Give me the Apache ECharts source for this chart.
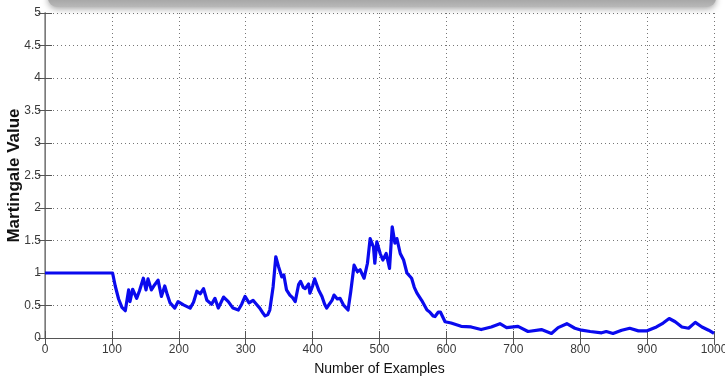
<!DOCTYPE html>
<html>
<head>
<meta charset="utf-8">
<script src="https://cdn.jsdelivr.net/npm/echarts@6/dist/echarts.min.js"></script>
<style>
  html, body { margin: 0; padding: 0; background: #fff; }
  #chart { width: 725px; height: 381px; }
</style>
</head>
<body>
<div id="chart"></div>
<script>
// Martingale value after each example
const examples = [
  0, 101, 105, 110, 115, 120, 125, 127, 131, 137, 141, 147, 151, 154, 159, 164, 169, 174, 179, 183,
  187, 194, 199, 207, 217, 222, 227, 232, 237, 242, 249, 254, 259, 267, 274, 281, 289, 294, 299, 305,
  311, 316, 321, 326, 329, 333, 336, 341, 345, 349, 354, 357, 361, 366, 370, 374, 379, 382, 386, 389,
  394, 396, 400, 403, 409, 414, 418, 421, 425, 429, 432, 437, 441, 446, 453, 457, 462, 467, 471, 477,
  482, 486, 491, 493, 496, 501, 505, 510, 515, 519, 523, 526, 531, 536, 541, 548, 552, 556, 563, 571,
  575, 580, 583, 588, 591, 598, 607, 622, 637, 652, 667, 680, 690, 707, 722, 742, 757, 767, 780, 792,
  802, 815, 832, 839, 849, 862, 874, 887, 900, 914, 924, 933, 942, 952, 962, 972, 982, 992, 1000
];
const martingale = [
  1.00, 1.00, 0.80, 0.60, 0.47, 0.42, 0.74, 0.56, 0.75, 0.61, 0.72, 0.92, 0.74, 0.91, 0.74, 0.82, 0.89, 0.64, 0.80, 0.66,
  0.54, 0.46, 0.56, 0.51, 0.46, 0.55, 0.72, 0.68, 0.76, 0.58, 0.52, 0.61, 0.46, 0.63, 0.56, 0.46, 0.43, 0.52, 0.64, 0.54,
  0.58, 0.52, 0.46, 0.38, 0.34, 0.36, 0.43, 0.79, 1.25, 1.10, 0.94, 0.97, 0.74, 0.66, 0.62, 0.56, 0.82, 0.87, 0.78, 0.76,
  0.83, 0.69, 0.80, 0.91, 0.74, 0.64, 0.52, 0.46, 0.52, 0.58, 0.66, 0.60, 0.61, 0.51, 0.43, 0.71, 1.12, 1.02, 1.05, 0.92,
  1.15, 1.53, 1.40, 1.15, 1.48, 1.30, 1.20, 1.30, 1.07, 1.71, 1.46, 1.53, 1.30, 1.20, 1.00, 0.92, 0.78, 0.69, 0.58, 0.43,
  0.40, 0.34, 0.33, 0.40, 0.40, 0.25, 0.23, 0.18, 0.17, 0.13, 0.17, 0.22, 0.16, 0.18, 0.10, 0.13, 0.07, 0.16, 0.22, 0.15,
  0.12, 0.10, 0.08, 0.10, 0.07, 0.12, 0.15, 0.11, 0.11, 0.17, 0.23, 0.30, 0.25, 0.17, 0.15, 0.24, 0.17, 0.12, 0.07
];
const xTicks = [0, 100, 200, 300, 400, 500, 600, 700, 800, 900, 1000];
const yTicks = [0, 0.5, 1, 1.5, 2, 2.5, 3, 3.5, 4, 4.5, 5];

const tickFont = { fontFamily: '"Liberation Sans Narrow", "Liberation Sans", Arial, sans-serif', fontSize: 12, color: '#3a3a3a' };
const gridLine = { show: true, lineStyle: { color: '#777', width: 1, type: [1, 3] } };
const axisLine = { show: true, lineStyle: { color: '#555', width: 1 } };
const tick = { show: true, inside: true, length: 7, lineStyle: { color: '#555' } };

const chart = echarts.init(document.getElementById('chart'), null, { renderer: 'canvas' });
chart.setOption({
  animation: false,
  backgroundColor: '#fff',
  grid: { left: 45, right: 11, top: 13, bottom: 43, show: false, containLabel: false, outerBoundsMode: 'none' },
  xAxis: [{
    type: 'value', min: 0, max: 1000, interval: 100,
    axisLine: axisLine,
    axisTick: tick,
    axisLabel: Object.assign({ margin: 6, formatter: v => xTicks.includes(v) ? String(v) : '' }, tickFont),
    splitLine: gridLine,
    name: 'Number of Examples', nameLocation: 'middle', nameGap: 24, nameMoveOverlap: false,
    nameTextStyle: { fontFamily: '"Liberation Sans Narrow", "Liberation Sans", Arial, sans-serif', fontSize: 14, color: '#111' }
  }, {
    type: 'value', min: 0, max: 1000, interval: 100, position: 'top',
    axisLine: axisLine,
    axisTick: tick,
    axisLabel: { show: false }, splitLine: { show: false }
  }],
  yAxis: [{
    type: 'value', min: 0, max: 5, interval: 0.5,
    axisLine: axisLine,
    axisTick: tick,
    axisLabel: Object.assign({ margin: 4, formatter: v => yTicks.includes(v) ? String(v) : '' }, tickFont),
    splitLine: gridLine,
    name: 'Martingale Value', nameLocation: 'middle', nameGap: 22, nameRotate: 90, nameMoveOverlap: false,
    nameTextStyle: { fontFamily: '"Liberation Sans", Arial, sans-serif', fontSize: 17, fontWeight: 'bold', color: '#111' }
  }, {
    type: 'value', min: 0, max: 5, interval: 0.5, position: 'right',
    axisLine: { show: true, lineStyle: { color: '#888', width: 1.5 } },
    axisTick: tick,
    axisLabel: { show: false }, splitLine: { show: false }
  }],
  series: [{
    type: 'line',
    data: examples.map((x, i) => [x, martingale[i]]),
    showSymbol: false,
    smooth: false,
    lineStyle: { color: '#0a0aee', width: 3.2, join: 'round' },
    z: 5
  }],
  graphic: [{
    type: 'rect',
    shape: { x: 48, y: -12, width: 668, height: 19, r: 9 },
    style: {
      fill: new echarts.graphic.LinearGradient(0, 0, 0, 1, [
        { offset: 0, color: '#8c8c8c' },
        { offset: 1, color: '#b8b8b8' }
      ]),
      shadowBlur: 6, shadowOffsetY: 2, shadowColor: 'rgba(0,0,0,0.35)'
    },
    z: 10
  }]
});
</script>
</body>
</html>
